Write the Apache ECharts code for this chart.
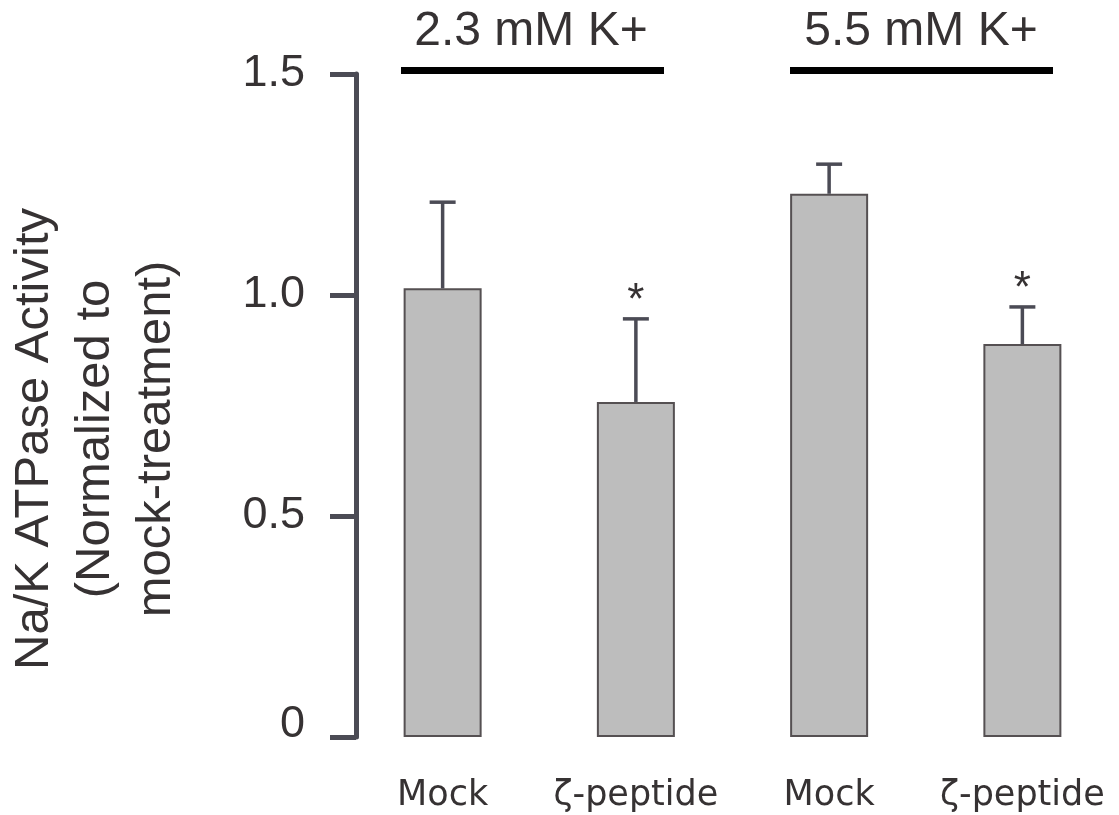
<!DOCTYPE html>
<html>
<head>
<meta charset="utf-8">
<script src="https://cdn.jsdelivr.net/npm/echarts@6/dist/echarts.min.js"></script>
<style>
  html, body { margin: 0; padding: 0; background: #fff; }
  #chart { width: 1119px; height: 815px; }
</style>
</head>
<body>
<div id="chart"></div>
<script>
// Treatment conditions along the x axis (two per potassium concentration)
const categories = ['Mock', 'ζ-peptide', 'Mock', 'ζ-peptide'];
// Mean Na/K ATPase activity, normalized to mock treatment
const means = [1.015, 0.758, 1.229, 0.889];
// Upper error (SD) for each bar
const errors = [0.195, 0.188, 0.067, 0.084];
// Significance markers drawn above the error caps
const significance = ['', '*', '', '*'];
// Potassium concentration groups (each spans two categories)
const groups = ['2.3 mM K+', '5.5 mM K+'];
// Y axis ticks
const yTicks = [0, 0.5, 1.0, 1.5];
const yLabelText = ['0', '0.5', '1.0', '1.5'];

const AXIS_COLOR = '#4b4b55';
const TEXT_COLOR = '#363233';
const SANS = '"Liberation Sans", Arial, Helvetica, sans-serif';

const chart = echarts.init(document.getElementById('chart'));

const errorData = means.map((m, i) => [i, m, m + errors[i], significance[i]]);

chart.setOption({
  animation: false,
  grid: { left: 346, width: 776, top: 74, bottom: 78, containLabel: false },
  xAxis: {
    type: 'category',
    data: categories,
    axisLine: { show: false },
    axisTick: { show: false },
    axisLabel: {
      interval: 0,
      hideOverlap: false,
      margin: 41,
      fontFamily: '"DejaVu Sans", Verdana, sans-serif',
      fontSize: 35,
      color: TEXT_COLOR
    }
  },
  yAxis: {
    type: 'value',
    min: yTicks[0],
    max: yTicks[yTicks.length - 1],
    interval: 0.5,
    offset: -10,
    splitLine: { show: false },
    axisLine: { show: true, lineStyle: { color: AXIS_COLOR, width: 5 } },
    axisTick: { show: true, length: 26, lineStyle: { color: AXIS_COLOR, width: 5 } },
    axisLabel: {
      margin: 51,
      fontFamily: SANS,
      fontSize: 45,
      color: TEXT_COLOR,
      formatter: v => {
        const t = yLabelText[yTicks.indexOf(+v.toFixed(1))] ?? '';
        // the zero label sits a little above its tick
        return v === 0 ? '{z|' + t + '}' : t;
      },
      rich: {
        z: { fontFamily: SANS, fontSize: 45, color: TEXT_COLOR, padding: [0, 0, 24, 0] }
      }
    }
  },
  series: [
    {
      type: 'bar',
      data: means,
      barWidth: 78,
      itemStyle: { color: '#bdbdbd', borderColor: '#555052', borderWidth: 2 },
      z: 2
    },
    {
      type: 'custom',
      data: errorData,
      z: 3,
      renderItem: (params, api) => {
        const base = api.coord([api.value(0), api.value(1)]);
        const top = api.coord([api.value(0), api.value(2)]);
        const capHalf = 13;
        const children = [
          { type: 'line', shape: { x1: base[0], y1: base[1], x2: top[0], y2: top[1] },
            style: { stroke: AXIS_COLOR, lineWidth: 3.5 } },
          { type: 'line', shape: { x1: top[0] - capHalf, y1: top[1], x2: top[0] + capHalf, y2: top[1] },
            style: { stroke: AXIS_COLOR, lineWidth: 3.5 } }
        ];
        const mark = api.value(3);
        if (mark) {
          children.push({
            type: 'text',
            style: {
              x: top[0], y: top[1] - 17, text: mark,
              font: '44px ' + SANS, fill: TEXT_COLOR,
              align: 'center', verticalAlign: 'middle'
            }
          });
        }
        return { type: 'group', children };
      }
    }
  ],
  graphic: [
    {
      type: 'text', x: 95, y: 439, rotation: Math.PI / 2,
      style: {
        text: 'Na/K ATPase Activity\n(Normalized to\nmock-treatment)',
        font: '49px ' + SANS, fill: TEXT_COLOR, lineHeight: 61,
        align: 'center', verticalAlign: 'middle'
      }
    },
    { type: 'text', x: 531, y: 32,
      style: { text: groups[0], font: '48px ' + SANS, fill: TEXT_COLOR, align: 'center', verticalAlign: 'middle' } },
    { type: 'text', x: 921, y: 32,
      style: { text: groups[1], font: '48px ' + SANS, fill: TEXT_COLOR, align: 'center', verticalAlign: 'middle' } },
    { type: 'rect', shape: { x: 401, y: 67, width: 263, height: 7 }, style: { fill: '#000' } },
    { type: 'rect', shape: { x: 790, y: 67, width: 263, height: 7 }, style: { fill: '#000' } }
  ]
});
</script>
</body>
</html>
